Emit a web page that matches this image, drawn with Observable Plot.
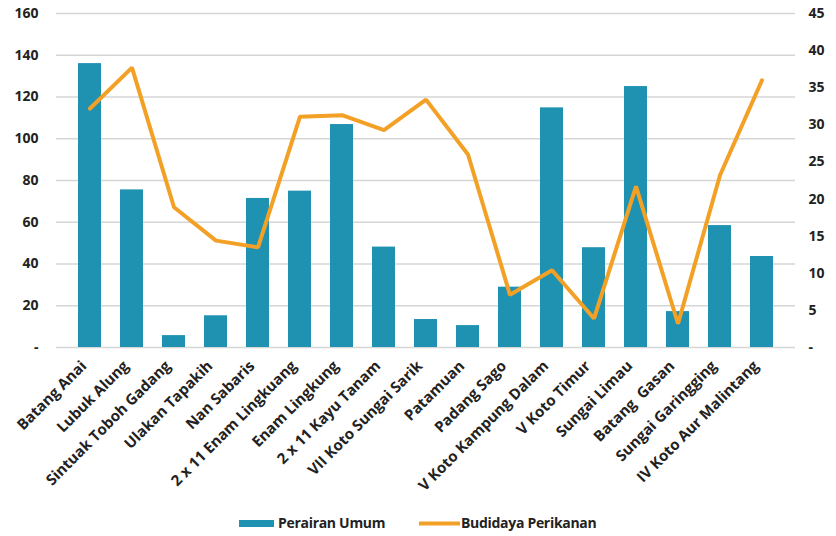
<!DOCTYPE html>
<html>
<head>
<meta charset="utf-8">
<script src="https://cdn.jsdelivr.net/npm/d3@7"></script>
<script src="https://cdn.jsdelivr.net/npm/@observablehq/plot@0.6"></script>
<style>
  body { margin: 0; background: #fff; font-family: "Open Sans", sans-serif; }
  #chart { width: 836px; }
  #chart svg { display: block; }
</style>
</head>
<body>
<div id="chart"></div>
<script>
const categories = [
  "Batang Anai", "Lubuk Alung", "Sintuak Toboh Gadang", "Ulakan Tapakih", "Nan Sabaris",
  "2 x 11 Enam Lingkuang", "Enam Lingkung", "2 x 11 Kayu Tanam", "VII Koto Sungai Sarik",
  "Patamuan", "Padang Sago", "V Koto Kampung Dalam", "V Koto Timur", "Sungai Limau",
  "Batang  Gasan", "Sungai Garingging", "IV Koto Aur Malintang"
];
const perairanUmum = [136, 75.5, 5.7, 15.2, 71.4, 74.9, 106.8, 48.1, 13.4, 10.5, 28.9, 114.8, 47.8, 125, 17.2, 58.4, 43.6];
const budidayaPerikanan = [32.2, 37.7, 18.9, 14.4, 13.5, 31.1, 31.3, 29.3, 33.4, 26.0, 7.1, 10.4, 3.9, 21.7, 3.2, 23.2, 36.0];
const leftTicks = [0, 20, 40, 60, 80, 100, 120, 140, 160];
const rightTicks = [0, 5, 10, 15, 20, 25, 30, 35, 40, 45];
const seriesNames = ["Perairan Umum", "Budidaya Perikanan"];
const colors = ["#1F91B1", "#F3A126"];

const leftMax = 160, rightMax = 45;
const k = leftMax / rightMax;
const data = categories.map((c, i) => ({cat: c, bar: perairanUmum[i], line: budidayaPerikanan[i], lineScaled: budidayaPerikanan[i] * k}));

const chart = Plot.plot({
  width: 836,
  height: 506,
  marginLeft: 56,
  marginRight: 41,
  marginTop: 13,
  marginBottom: 159,
  style: {fontFamily: "'Open Sans', sans-serif", background: "#fff"},
  x: {domain: categories, padding: 0.45, label: null},
  y: {domain: [0, leftMax], label: null},
  marks: [
    Plot.gridY(leftTicks, {stroke: "#d6d6d6", strokeOpacity: 1, strokeWidth: 1.5}),
    Plot.barY(data, {x: "cat", y: "bar", fill: colors[0]}),
    Plot.line(data, {x: "cat", y: "lineScaled", stroke: colors[1], strokeWidth: 4, strokeLinejoin: "miter", strokeLinecap: "round"}),
    Plot.axisY(leftTicks, {anchor: "left", tickSize: 0, tickPadding: 18, tickFormat: d => d === 0 ? "-" : d, fontSize: 14, fontWeight: 700, fill: "#222"}),
    Plot.axisY(rightTicks.map(v => v * k), {anchor: "right", tickSize: 0, tickPadding: 13, tickFormat: d => { const v = Math.round(d / k); return v === 0 ? "-" : v; }, fontSize: 14, fontWeight: 700, fill: "#222", textAnchor: "start"}),
    Plot.axisX({tickSize: 0, tickRotate: -45, tickPadding: 16, dx: -6, fontSize: 15, fontWeight: 700, fill: "#222", label: null})
  ]
});
document.getElementById("chart").appendChild(chart);

// Legend below the chart
const lg = d3.select("#chart").append("svg")
  .attr("width", 836).attr("height", 30)
  .style("font-family", "'Open Sans', sans-serif");
lg.append("rect").attr("x", 239).attr("y", 14).attr("width", 35).attr("height", 7).attr("fill", colors[0]);
lg.append("text").attr("x", 278).attr("y", 17.5).attr("dy", "0.35em")
  .attr("font-size", 14).attr("font-weight", 700).attr("fill", "#222").attr("letter-spacing", -0.3)
  .text(seriesNames[0]);
lg.append("rect").attr("x", 419).attr("y", 15.5).attr("width", 41).attr("height", 4).attr("fill", colors[1]);
lg.append("text").attr("x", 461).attr("y", 17.5).attr("dy", "0.35em")
  .attr("font-size", 14).attr("font-weight", 700).attr("fill", "#222").attr("letter-spacing", -0.3)
  .text(seriesNames[1]);
</script>
</body>
</html>
